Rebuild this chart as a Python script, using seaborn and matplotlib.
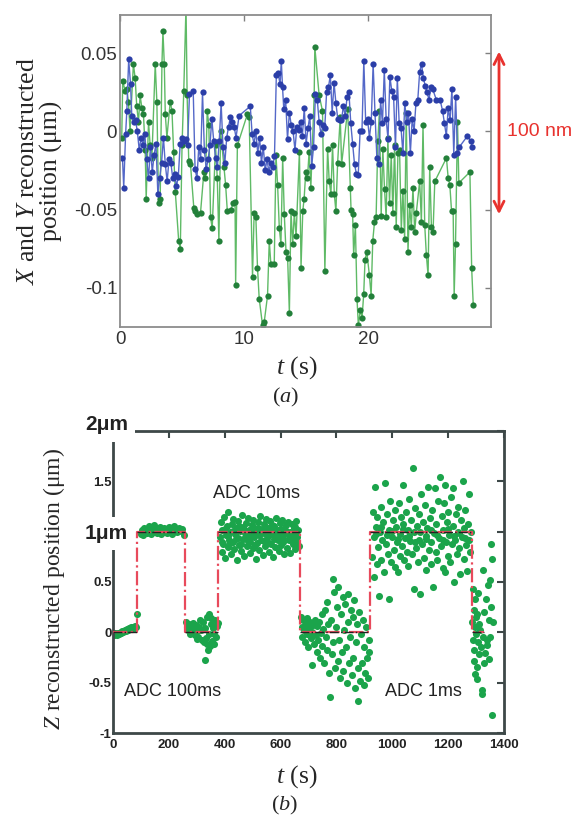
import matplotlib
matplotlib.use('Agg')
import numpy as np
import pandas as pd
import matplotlib.pyplot as plt
import seaborn as sns
from matplotlib.transforms import blended_transform_factory

# ---------------- data, panel (a): X and Y traces (um) ----------------
blue_t = [0.2, 0.3, 0.45, 0.55, 0.7, 0.85, 0.95, 1.1, 1.25, 1.4,
          1.55, 1.7, 1.85, 2.0, 2.15, 2.3, 2.45, 2.6, 2.75, 2.9,
          3.05, 3.2, 3.35, 3.5, 3.65, 3.8, 3.95, 4.1, 4.25, 4.4,
          4.55, 4.7, 4.85, 5.0, 5.15, 5.3, 5.45, 5.6, 5.9, 6.05,
          6.2, 6.35, 6.5, 6.65, 6.8, 6.95, 7.1, 7.25, 7.4, 7.55,
          7.7, 7.85, 8.0, 8.15, 8.3, 8.45, 8.6, 8.75, 8.9, 9.05,
          9.2, 9.35, 9.6, 10.5, 10.65, 10.8, 10.95, 11.1, 11.25, 11.4,
          11.55, 11.7, 11.85, 12.0, 12.15, 12.3, 12.45, 12.6, 12.75, 12.9,
          13.0, 13.1, 13.2, 13.35, 13.5, 13.65, 13.8, 13.95, 14.1, 14.25,
          14.4, 14.55, 14.7, 14.85, 15.0, 15.15, 15.3, 15.45, 15.6, 15.75,
          15.9, 16.05, 16.2, 16.35, 16.5, 16.65, 16.8, 16.95, 17.1, 17.25,
          17.4, 17.55, 17.7, 17.85, 18.0, 18.15, 18.3, 18.45, 18.6, 18.75,
          18.9, 19.05, 19.2, 19.35, 19.5, 19.65, 19.8, 19.95, 20.1, 20.25,
          20.4, 20.55, 20.7, 20.85, 21.0, 21.15, 21.3, 21.45, 21.6, 21.75,
          21.9, 22.05, 22.2, 22.35, 22.5, 22.65, 22.8, 22.95, 23.1, 23.25,
          23.4, 23.55, 23.7, 23.85, 24.0, 24.15, 24.3, 24.45, 24.6, 24.75,
          24.9, 25.05, 25.2, 25.5, 25.8, 26.0, 26.15, 26.3, 26.45, 26.6,
          26.75, 26.9, 27.05, 27.2, 27.35, 28.0, 28.25, 28.4]
blue_pos = [-0.017, -0.036, -0.002, 0.013, 0.046, 0.030, 0.010, 0.006, 0.007, 0.000,
            -0.012, -0.004, -0.009, -0.002, -0.018, -0.030, -0.010, -0.026, -0.015, -0.008,
            -0.040, -0.030, -0.020, -0.004, -0.021, -0.032, -0.018, -0.020, -0.030, -0.027,
            -0.035, -0.029, -0.008, -0.004, -0.006, -0.005, -0.009, 0.024, 0.026, -0.024,
            -0.030, -0.010, -0.018, 0.025, -0.012, -0.024, -0.018, -0.009, 0.008, -0.006,
            -0.017, -0.023, -0.006, 0.018, -0.010, -0.020, -0.004, 0.003, 0.009, 0.006,
            0.003, -0.004, 0.010, 0.016, -0.002, -0.008, 0.000, -0.014, -0.004, -0.020,
            -0.010, -0.025, -0.018, -0.026, -0.020, -0.023, -0.016, 0.036, 0.037, 0.030,
            0.045, 0.028, 0.014, 0.020, -0.005, 0.012, 0.004, 0.000, -0.012, 0.003,
            0.001, 0.006, -0.003, 0.015, -0.008, 0.002, 0.010, -0.022, -0.010, 0.024,
            0.020, 0.006, -0.002, 0.004, 0.002, 0.025, 0.028, 0.036, 0.012, 0.031,
            0.018, 0.008, 0.007, 0.007, 0.016, 0.010, 0.022, 0.025, 0.005, -0.008,
            -0.021, -0.027, -0.028, 0.000, 0.000, 0.045, 0.006, 0.008, -0.004, 0.006,
            0.043, 0.012, -0.017, -0.021, 0.020, 0.005, 0.039, 0.008, -0.005, 0.035,
            0.026, 0.022, -0.010, 0.034, 0.005, 0.002, -0.014, 0.018, 0.006, 0.012,
            -0.014, 0.008, 0.000, 0.018, 0.020, 0.038, 0.043, 0.034, 0.029, 0.025,
            0.020, 0.028, 0.027, 0.020, 0.020, 0.013, 0.005, -0.003, 0.015, 0.007,
            0.027, -0.015, 0.022, -0.014, -0.010, -0.003, -0.006, -0.010]

green_t = [0.14, 0.22, 0.41, 0.54, 0.68, 0.81, 1.08, 1.22, 1.35, 1.49,
           1.62, 1.76, 1.89, 2.03, 2.11, 2.30, 2.43, 2.57, 2.84, 2.97,
           3.11, 3.24, 3.38, 3.46, 3.57, 3.65, 3.78, 4.05, 4.19, 4.32,
           4.46, 4.73, 4.86, 5.00, 5.14, 5.32, 5.41, 5.54, 5.68, 5.95,
           6.08, 6.22, 6.49, 6.76, 6.89, 7.03, 7.16, 7.30, 7.43, 7.70,
           7.84, 7.97, 8.11, 8.38, 8.51, 8.65, 8.92, 9.14, 9.27, 9.32,
           9.46, 10.27, 10.41, 10.68, 10.81, 10.95, 11.08, 11.22, 11.49, 11.62,
           11.89, 12.03, 12.16, 12.43, 12.57, 12.70, 12.84, 12.97, 13.11, 13.24,
           13.38, 13.51, 13.65, 13.78, 13.92, 14.05, 14.19, 14.46, 14.59, 14.73,
           14.84, 14.97, 15.11, 15.24, 15.38, 15.65, 15.70, 16.05, 16.32, 16.51,
           16.73, 16.86, 17.00, 17.13, 17.27, 17.40, 17.54, 17.75, 17.86, 18.35,
           18.56, 18.62, 18.75, 18.83, 18.97, 19.10, 19.21, 19.37, 19.51, 19.64,
           19.75, 19.89, 20.10, 20.24, 20.37, 20.51, 20.64, 20.78, 20.91, 21.05,
           21.18, 21.32, 21.45, 21.59, 21.72, 21.86, 21.99, 22.13, 22.26, 22.40,
           22.53, 22.67, 22.80, 22.94, 23.07, 23.21, 23.34, 23.48, 23.61, 23.75,
           23.88, 24.15, 24.29, 24.42, 24.56, 24.69, 24.83, 24.96, 25.10, 25.23,
           25.37, 26.31, 26.45, 26.58, 26.72, 26.85, 26.93, 27.04, 27.20, 27.31,
           28.20, 28.34, 28.47]
green_pos = [-0.004, 0.032, 0.026, 0.027, 0.019, 0.000, 0.043, 0.034, 0.016, 0.006,
             0.023, 0.015, 0.011, -0.012, -0.043, 0.006, -0.009, -0.017, 0.043, 0.019,
             -0.046, -0.043, 0.043, 0.064, 0.043, 0.011, -0.004, 0.019, 0.013, -0.013,
             -0.039, -0.070, -0.075, -0.009, 0.026, 0.080, 0.023, -0.019, -0.021, -0.049,
             -0.051, -0.053, -0.052, -0.026, -0.030, 0.013, 0.004, -0.055, -0.062, -0.009,
             -0.030, -0.070, 0.000, -0.023, -0.034, -0.051, -0.050, -0.046, -0.045, -0.098,
             -0.009, 0.011, 0.009, -0.093, -0.052, -0.055, -0.087, -0.107, -0.124, -0.122,
             -0.105, -0.070, -0.085, -0.085, -0.015, -0.034, -0.062, -0.072, -0.017, -0.053,
             -0.077, -0.081, -0.116, -0.051, -0.072, -0.052, -0.067, -0.013, -0.087, -0.051,
             -0.043, -0.026, -0.030, -0.013, -0.036, 0.023, 0.054, 0.023, 0.013, -0.089,
             -0.011, -0.032, -0.040, -0.009, -0.040, -0.051, -0.020, 0.009, -0.021, 0.014,
             -0.036, -0.050, -0.053, -0.079, -0.060, -0.107, -0.124, -0.114, -0.119, -0.104,
             -0.082, -0.077, -0.092, -0.105, -0.070, -0.058, -0.055, -0.006, 0.013, -0.054,
             -0.011, -0.037, -0.055, -0.004, -0.046, -0.015, -0.052, -0.009, -0.061, -0.014,
             -0.012, -0.063, -0.038, -0.069, 0.012, -0.077, -0.047, -0.061, -0.036, -0.064,
             -0.052, -0.032, -0.058, 0.004, -0.060, -0.079, -0.092, -0.023, -0.061, -0.064,
             -0.032, -0.017, -0.030, -0.034, -0.051, -0.051, -0.105, -0.072, 0.006, -0.033,
             -0.026, -0.087, -0.111]

# ---------------- data, panel (b): Z steps (um) ----------------
# run 1: ADC 100ms at 0
run1_t = [2, 5, 8, 11, 14, 17, 20, 24, 27, 30, 33, 36, 40, 43, 46, 50, 53, 56,
          60, 63, 66, 70, 73, 76, 80, 83, 86]
run1_z = [-0.02, -0.03, -0.01, -0.02, -0.03, -0.01, -0.02, -0.01, 0.0, -0.01, 0.01, 0.0,
          0.01, 0.02, 0.01, 0.03, 0.02, 0.04, 0.03, 0.05, 0.04, 0.03, 0.05, 0.04, 0.06,
          0.05, 0.18]
# run 2: ADC 100ms at 1 um
run2_t = [100, 104, 108, 112, 116, 120, 124, 128, 132, 136, 140, 144, 148, 152, 156,
          160, 164, 168, 172, 176, 180, 184, 188, 192, 196, 200, 205, 210, 215, 220,
          225, 230, 236, 242, 248, 253]
run2_z = [0.98, 1.02, 0.97, 1.04, 1.00, 0.99, 1.03, 1.06, 1.01, 0.98, 1.04, 1.00, 1.07,
          1.02, 0.99, 1.03, 1.01, 1.05, 0.98, 1.02, 1.00, 1.04, 1.02, 0.99, 1.03, 1.05,
          1.01, 0.98, 1.03, 1.06, 1.02, 1.00, 1.04, 1.01, 1.03, 0.97]
# run 3: ADC 10ms at 0
run3_t = [262, 265, 268, 272, 275, 278, 282, 285, 288, 292, 295, 298, 302, 305, 308,
          312, 315, 318, 322, 325, 328, 330, 332, 335, 338, 342, 345, 348, 352, 355,
          358, 362, 365, 368, 372, 375, 340, 350, 360, 300]
run3_z = [0.10, 0.05, 0.02, 0.08, -0.02, 0.04, 0.06, 0.00, 0.09, 0.03, -0.03, 0.07, 0.01,
          -0.05, 0.05, 0.12, 0.02, -0.08, 0.10, -0.10, 0.04, -0.27, -0.06, 0.15, -0.12,
          0.18, -0.02, -0.14, 0.08, -0.09, 0.04, -0.12, 0.12, -0.05, 0.06, 0.09, -0.18,
          0.14, -0.02, -0.07]
# run 4: ADC 10ms at 1 um
run4_t = [383, 386, 389, 392, 395, 398, 401, 404, 407, 410, 413, 416, 419, 422, 425,
          428, 431, 434, 437, 440, 443, 446, 449, 452, 455, 458, 461, 464, 467, 470,
          473, 476, 479, 482, 485, 488, 491, 494, 497, 500, 503, 506, 509, 512, 515,
          518, 521, 524, 527, 530, 533, 536, 539, 542, 545, 548, 551, 554, 557, 560,
          563, 566, 569, 572, 575, 578, 581, 584, 587, 590, 593, 596, 599, 602, 605,
          608, 611, 614, 617, 620, 623, 626, 629, 632, 635, 638, 641, 644, 647, 650,
          653, 656, 659, 662, 665,
          390, 400, 410, 420, 430, 440, 450, 460, 470, 480, 490, 500, 510, 520, 530,
          540, 550, 560, 570, 580, 590, 600, 610, 620, 630, 640, 650, 660]
run4_z = [0.95, 1.10, 0.80, 1.02, 0.88, 1.15, 0.74, 0.97, 1.06, 0.85, 1.20, 0.92, 1.00,
          0.78, 1.08, 0.90, 1.13, 0.83, 0.98, 1.04, 0.72, 0.94, 1.11, 0.87, 1.01, 0.81,
          1.17, 0.93, 1.05, 0.76, 0.99, 1.09, 0.86, 1.14, 0.91, 1.02, 0.79, 0.96, 1.07,
          0.84, 1.12, 0.95, 1.00, 0.73, 0.89, 1.10, 0.97, 0.82, 1.16, 0.92, 1.03, 0.77,
          0.99, 1.08, 0.86, 1.13, 0.94, 1.04, 0.80, 0.97, 1.11, 0.88, 1.01, 0.75, 0.93,
          1.06, 0.85, 1.14, 0.96, 1.02, 0.81, 0.98, 1.09, 0.87, 1.12, 0.94, 1.03, 0.78,
          0.99, 1.07, 0.84, 1.10, 0.92, 1.00, 0.79, 0.95, 1.08, 0.88, 1.04, 0.83, 0.97,
          1.11, 0.90, 1.02, 0.86,
          0.90, 1.03, 0.96, 0.89, 1.01, 0.93, 1.06, 0.88, 1.02, 0.95, 0.90, 1.05, 0.87,
          1.04, 0.99, 0.91, 1.02, 0.89, 1.07, 0.96, 0.92, 1.03, 0.90, 1.01, 0.97, 0.93,
          1.05, 0.95]
# run 5: ADC 1ms at 0
run5_t = [672, 675, 678, 681, 684, 687, 690, 693, 696, 699, 702, 705, 708, 711, 714,
          717, 720, 723, 726, 729, 732, 735, 738, 741, 744, 747, 750, 753, 756, 759,
          762, 765, 768, 771, 774, 777, 780, 783, 786, 789, 792, 795, 798, 801, 804,
          807, 810, 813, 816, 819, 822, 825, 828, 831, 834, 837, 840, 843, 846, 849,
          852, 855, 858, 861, 864, 867, 870, 873, 876, 879, 882, 885, 888, 891, 894,
          897, 900, 903, 906, 909, 912, 915, 918]
run5_z = [0.15, 0.05, -0.05, 0.12, 0.02, -0.10, 0.08, -0.02, 0.14, -0.15, 0.04, 0.10,
          -0.06, 0.00, -0.32, 0.07, -0.12, 0.12, -0.03, -0.20, 0.06, -0.08, 0.10, -0.25,
          -0.01, 0.18, -0.14, 0.03, -0.30, 0.22, -0.05, 0.30, -0.18, 0.08, -0.40, -0.64,
          0.12, -0.22, 0.53, -0.10, 0.40, -0.35, 0.05, 0.25, -0.28, 0.45, -0.08, -0.45,
          0.18, -0.20, 0.35, -0.38, 0.02, 0.28, -0.15, -0.50, 0.10, 0.38, -0.30, -0.05,
          0.22, -0.42, 0.15, -0.25, 0.32, -0.55, -0.10, 0.08, -0.35, -0.68, 0.20, -0.48,
          -0.02, -0.30, 0.12, -0.52, -0.15, -0.40, 0.05, -0.25, -0.45, -0.08, -0.20]
# run 6: ADC 1ms at 1 um
run6_t = [927, 930, 933, 936, 938, 941, 944, 947, 950, 952, 955, 958, 961, 964, 967,
          970, 974, 977, 980, 984, 987, 990, 993, 996, 999, 1002, 1005, 1008, 1011,
          1014, 1017, 1020, 1023, 1026, 1029, 1032, 1035, 1038, 1040, 1043, 1046,
          1049, 1052, 1055, 1058, 1061, 1064, 1067, 1070, 1074, 1076, 1079, 1082,
          1085, 1088, 1091, 1094, 1097, 1100, 1104, 1107, 1110, 1113, 1116, 1119,
          1122, 1125, 1128, 1131, 1134, 1137, 1140, 1143, 1146, 1149, 1152, 1155,
          1158, 1161, 1164, 1167, 1171, 1174, 1177, 1180, 1183, 1186, 1189, 1188,
          1192, 1195, 1198, 1201, 1204, 1207, 1210, 1213, 1216, 1219, 1222, 1225,
          1228, 1231, 1234, 1237, 1240, 1243, 1246, 1249, 1252, 1255, 1258, 1261,
          1264, 1267, 1270, 1273, 1275, 1278, 1281,
          940, 960, 980, 1000, 1020, 1040, 1060, 1080, 1100, 1120, 1140, 1160, 1180,
          1200, 1220, 1240, 1260]
run6_z = [0.75, 1.20, 0.55, 0.95, 1.44, 1.05, 0.68, 1.15, 0.85, 0.36, 1.00, 1.25, 0.72,
          0.92, 1.10, 0.60, 1.48, 0.88, 1.18, 0.78, 0.33, 1.02, 1.30, 0.70, 0.95, 1.12,
          0.82, 1.22, 0.65, 1.05, 0.90, 0.60, 1.28, 0.98, 0.76, 1.15, 0.86, 1.08, 1.46,
          0.72, 0.94, 1.20, 0.80, 1.02, 0.66, 1.32, 0.91, 1.12, 0.78, 1.63, 0.43, 1.00,
          1.24, 0.84, 1.06, 0.70, 1.18, 0.92, 0.38, 1.37, 0.88, 1.10, 0.74, 1.26, 0.96,
          0.62, 1.04, 1.44, 0.82, 1.14, 0.90, 0.68, 1.22, 0.45, 0.99, 1.43, 0.80, 1.08,
          0.72, 1.30, 0.94, 1.54, 0.86, 1.16, 0.64, 1.02, 1.28, 1.46, 0.60, 0.90, 1.10,
          0.76, 1.20, 0.97, 0.70, 1.34, 0.88, 1.06, 1.43, 0.50, 0.92, 1.18, 0.78, 1.00,
          1.25, 0.84, 0.58, 1.12, 0.95, 1.50, 0.73, 1.04, 1.22, 0.87, 0.61, 1.08, 0.92,
          1.37, 0.80, 1.00,
          0.98, 1.05, 0.97, 1.01, 0.93, 1.03, 0.96, 0.90, 1.00, 0.93, 1.02, 0.97, 0.92,
          1.03, 0.96, 0.99, 0.94]
# run 7: ADC 1ms back at 0
run7_t = [1286, 1288, 1290, 1291, 1293, 1294, 1295, 1296, 1297, 1299, 1300, 1302, 1304,
          1305, 1306, 1308, 1310, 1312, 1315, 1318, 1321, 1323, 1324, 1326, 1328, 1330,
          1333, 1336, 1338, 1340, 1343, 1345, 1347, 1349, 1351, 1353, 1355, 1357, 1358,
          1360]
run7_z = [0.10, -0.08, 0.43, -0.18, 0.22, -0.28, 0.33, 0.05, -0.41, 0.15, -0.02, -0.46,
          0.18, -0.34, 0.39, -0.10, 0.08, -0.22, 0.02, -0.15, -0.61, -0.57, 0.62, -0.05,
          0.20, -0.30, -0.21, 0.33, -0.08, -0.13, 0.47, 0.12, -0.26, -0.05, 0.52, 0.88,
          0.25, -0.82, 0.73, 0.10]

# commanded steps
step_t = [0, 86, 86, 258, 258, 376, 376, 668, 668, 920, 920, 1285, 1285, 1330]
step_z = [0, 0, 1, 1, 0, 0, 1, 1, 0, 0, 1, 1, 0, 0]
level_starts = [0, 86, 258, 376, 668, 920, 1285]
level_ends = [86, 258, 376, 668, 920, 1285, 1330]
level_z = [0, 1, 0, 1, 0, 1, 0]

#%%
df_blue = pd.DataFrame({'t': blue_t, 'pos': blue_pos})
df_green = pd.DataFrame({'t': green_t, 'pos': green_pos})
df_z = pd.DataFrame({
    't': run1_t + run2_t + run3_t + run4_t + run5_t + run6_t + run7_t,
    'z': run1_z + run2_z + run3_z + run4_z + run5_z + run6_z + run7_z,
})
df_step = pd.DataFrame({'t': step_t, 'z': step_z})

sns.set_theme(style='white')
plt.rcParams['font.family'] = ['Liberation Sans', 'DejaVu Sans']
plt.rcParams['mathtext.fontset'] = 'custom'
plt.rcParams['mathtext.rm'] = 'Liberation Serif'
plt.rcParams['mathtext.it'] = 'Liberation Serif:italic'
serif = ['Liberation Serif', 'DejaVu Serif']

W, H = 577, 816
fig = plt.figure(figsize=(W / 100, H / 100), dpi=100)
fig.patch.set_facecolor('white')

ax_a = fig.add_axes([120 / W, 1 - 327 / H, 371 / W, 312 / H])
ax_b = fig.add_axes([113 / W, 1 - 733 / H, 391 / W, 302 / H])

#%% panel (a)
sns.lineplot(data=df_green, x='t', y='pos', ax=ax_a, sort=False, estimator=None,
             color='#5fba66', linewidth=1.0, marker='o', markersize=4.5,
             markerfacecolor='#23803a', markeredgecolor='#23803a', markeredgewidth=0)
sns.lineplot(data=df_blue, x='t', y='pos', ax=ax_a, sort=False, estimator=None,
             color='#5468c8', linewidth=1.0, marker='o', markersize=4.5,
             markerfacecolor='#2b3ea8', markeredgecolor='#2b3ea8', markeredgewidth=0)

ax_a.set_xlim(0, 29.9)
ax_a.set_ylim(-0.125, 0.0743)
ax_a.set_xticks([0, 10, 20])
ax_a.set_yticks([-0.1, -0.05, 0, 0.05])
ax_a.set_yticklabels(['-0.1', '-0.05', '0', '0.05'])
ax_a.set_xlabel('')
ax_a.set_ylabel('')
ax_a.tick_params(direction='in', length=4, width=1, color='#808080', top=True, right=True,
                 labelsize=13.5, labelcolor='#333333', pad=3)
ax_a.tick_params(axis='y', pad=2)
for sp in ax_a.spines.values():
    sp.set_color('#8c8c8c')
    sp.set_linewidth(1.3)

# 100 nm scale arrow
trans_a = blended_transform_factory(ax_a.transAxes, ax_a.transData)
ax_a.annotate('', xy=(1.0216, 0.051), xytext=(1.0216, -0.053), xycoords=trans_a,
              textcoords=trans_a, annotation_clip=False,
              arrowprops=dict(arrowstyle='<->', color='#e8322e', lw=2, mutation_scale=18,
                              shrinkA=0, shrinkB=0))
ax_a.text(1.043, 0.0, '100 nm', transform=trans_a, ha='left', va='center',
          fontsize=14, color='#e8322e')

fig.text(40 / W, 1 - 171 / H, r'$X$ and $Y$ reconstructed' + '\n' + 'position (μm)',
         rotation=90, ha='center', va='center', fontsize=18.5, family=serif,
         linespacing=1.0)
fig.text(297 / W, 1 - 368 / H, r'$t$ (s)', ha='center', va='center', fontsize=18.5,
         family=serif)
fig.text(286 / W, 1 - 397 / H, r'($a$)', ha='center', va='center', fontsize=16,
         family=serif)

#%% panel (b)
sns.scatterplot(data=df_z, x='t', y='z', ax=ax_b, color='#1ba44b', s=26,
                linewidth=0, zorder=2)
sns.lineplot(data=df_step, x='t', y='z', ax=ax_b, sort=False, estimator=None,
             color='#e84a5c', linewidth=1.6, linestyle='-.', zorder=3)
for t0, t1, lv in zip(level_starts, level_ends, level_z):
    ax_b.plot([t0, t1], [lv, lv], color='#222222', linewidth=1.0, linestyle='-.',
              zorder=4)

ax_b.set_xlim(0, 1400)
ax_b.set_ylim(-1, 2)
ax_b.set_xticks(range(0, 1401, 200))
ax_b.set_yticks([-1, -0.5, 0, 0.5, 1, 1.5, 2])
ax_b.set_yticklabels(['-1', '-0.5', '0', '0.5', '', '1.5', ''])
ax_b.set_xlabel('')
ax_b.set_ylabel('')
ax_b.tick_params(direction='in', length=5, width=1.5, color='#3d4848', top=True,
                 right=True, labelsize=9.5, labelcolor='#222222')
ax_b.tick_params(axis='y', pad=1)
ax_b.tick_params(axis='x', pad=4)
for lab in ax_b.get_xticklabels() + ax_b.get_yticklabels():
    lab.set_fontweight('bold')
for sp in ax_b.spines.values():
    sp.set_color('#3d4848')
    sp.set_linewidth(2)

ax_b.text(358, 1.38, 'ADC 10ms', ha='left', va='center', fontsize=13, color='#222222')
ax_b.text(39, -0.59, 'ADC 100ms', ha='left', va='center', fontsize=13, color='#222222')
ax_b.text(974, -0.59, 'ADC 1ms', ha='left', va='center', fontsize=13, color='#222222')

trans_b = blended_transform_factory(fig.transFigure, ax_b.transData)
for lv, txt in [(2.06, '2μm'), (0.98, '1μm')]:
    fig.text(128 / W, lv, txt, transform=trans_b,
             ha='right', va='center', fontsize=15, fontweight='bold', color='#222222',
             bbox=dict(boxstyle='square,pad=0.35', facecolor='white', edgecolor='none'))

fig.text(54 / W, 1 - 589 / H, r'$Z$ reconstructed position (μm)', rotation=90,
         ha='center', va='center', fontsize=17, family=serif)
fig.text(297 / W, 1 - 777 / H, r'$t$ (s)', ha='center', va='center', fontsize=18.5,
         family=serif)
fig.text(285 / W, 1 - 805 / H, r'($b$)', ha='center', va='center', fontsize=16,
         family=serif)

fig.savefig('out.png', dpi=100, facecolor='white')
